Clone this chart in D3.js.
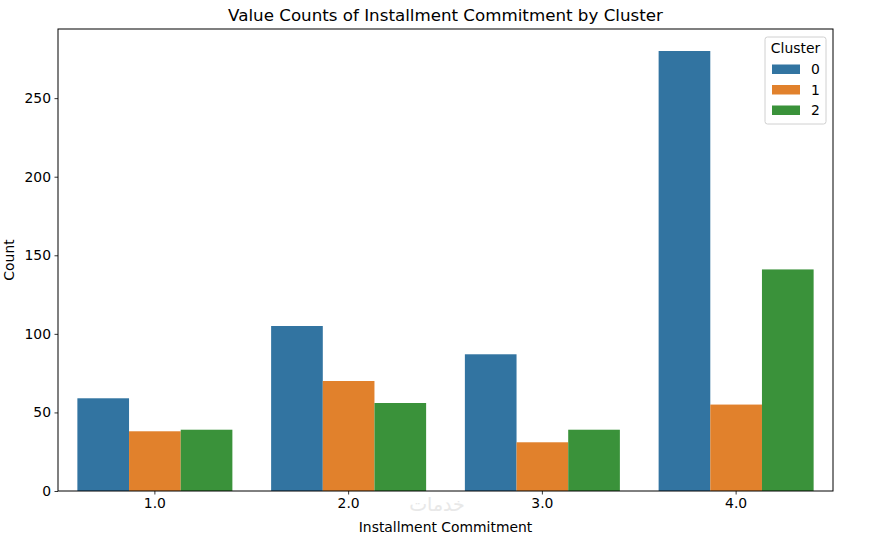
<!DOCTYPE html>
<html>
<head>
<meta charset="utf-8">
<script src="https://cdn.jsdelivr.net/npm/d3@7"></script>
<style>
  body { margin: 0; background: #fff; }
  text { font-family: "DejaVu Sans", sans-serif; }
</style>
</head>
<body>
<svg id="chart" width="873" height="539"></svg>
<script>
const categories = ["1.0", "2.0", "3.0", "4.0"];
const clusters = ["0", "1", "2"];
const cluster0 = [59, 105, 87, 280];
const cluster1 = [38, 70, 31, 55];
const cluster2 = [39, 56, 39, 141];
const yTicks = [0, 50, 100, 150, 200, 250];
const colors = ["#3274a1", "#e1812c", "#3a923a"];

const seriesValues = [cluster0, cluster1, cluster2];
const data = [];
categories.forEach((c, i) => {
  clusters.forEach((k, j) => data.push({ cat: c, cluster: k, value: seriesValues[j][i], idx: j }));
});

const svg = d3.select("#chart");
const m = { left: 58, right: 833, top: 29, bottom: 491 };

const x = d3.scaleBand().domain(categories).range([m.left, m.right]).paddingInner(0).paddingOuter(0);
const xInner = d3.scaleBand().domain(clusters).range([0, x.bandwidth() * 0.8]);
const y = d3.scaleLinear().domain([0, 294]).range([m.bottom, m.top]);

// watermark
svg.append("text")
  .attr("x", 437).attr("y", 511)
  .attr("text-anchor", "middle")
  .attr("font-size", 19)
  .attr("fill", "#e8e8e8")
  .text("خدمات");

// bars
svg.append("g").selectAll("rect").data(data).join("rect")
  .attr("x", d => x(d.cat) + x.bandwidth() * 0.1 + xInner(d.cluster))
  .attr("width", xInner.bandwidth())
  .attr("y", d => y(d.value))
  .attr("height", d => y(0) - y(d.value))
  .attr("fill", d => colors[d.idx]);

// axes
const xAxis = svg.append("g")
  .attr("transform", `translate(0,${m.bottom})`)
  .call(d3.axisBottom(x).tickSize(3.5).tickSizeOuter(0).tickPadding(3.5));
const yAxis = svg.append("g")
  .attr("transform", `translate(${m.left},0)`)
  .call(d3.axisLeft(y).tickValues(yTicks).tickSize(3.5).tickSizeOuter(0).tickPadding(3.5));
[xAxis, yAxis].forEach(g => {
  g.selectAll("text").attr("font-size", 13.9).attr("fill", "#000").attr("font-family", "DejaVu Sans");
  g.selectAll("line").attr("stroke", "#000").attr("stroke-width", 0.8);
  g.select(".domain").remove();
});

// frame
svg.append("rect")
  .attr("x", m.left).attr("y", m.top)
  .attr("width", m.right - m.left).attr("height", m.bottom - m.top)
  .attr("fill", "none").attr("stroke", "#000").attr("stroke-width", 1);

// title & labels
svg.append("text").attr("x", (m.left + m.right) / 2).attr("y", 21)
  .attr("text-anchor", "middle").attr("font-size", 16.7).text("Value Counts of Installment Commitment by Cluster");
svg.append("text").attr("x", (m.left + m.right) / 2).attr("y", 532)
  .attr("text-anchor", "middle").attr("font-size", 13.9).text("Installment Commitment");
svg.append("text").attr("transform", `translate(14,${(m.top + m.bottom) / 2}) rotate(-90)`)
  .attr("text-anchor", "middle").attr("font-size", 13.9).text("Count");

// legend
const lg = svg.append("g").attr("transform", "translate(765,37)");
lg.append("rect").attr("width", 61).attr("height", 87).attr("rx", 2.5)
  .attr("fill", "#fff").attr("fill-opacity", 0.8).attr("stroke", "#d0d0d0").attr("stroke-width", 1);
lg.append("text").attr("x", 30.5).attr("y", 15.5).attr("text-anchor", "middle").attr("font-size", 13.9).text("Cluster");
clusters.forEach((k, j) => {
  const yy = 32 + j * 20.5;
  lg.append("rect").attr("x", 7).attr("y", yy - 4.5).attr("width", 28).attr("height", 9.5).attr("fill", colors[j]);
  lg.append("text").attr("x", 46).attr("y", yy + 5).attr("font-size", 13.9).text(k);
});
</script>
</body>
</html>
